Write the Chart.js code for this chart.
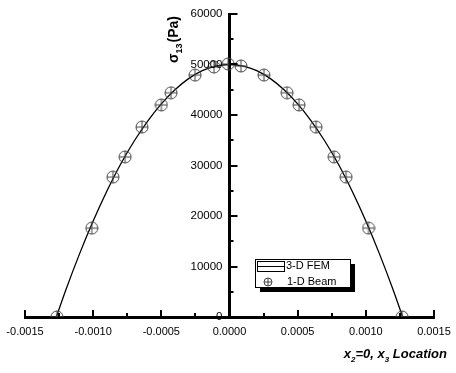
<!DOCTYPE html>
<html>
<head>
<meta charset="utf-8">
<script src="https://cdn.jsdelivr.net/npm/chart.js@4.4.0/dist/chart.umd.min.js"></script>
<style>
  html, body { margin: 0; padding: 0; background: #fff; }
  #wrap { width: 456px; height: 373px; }
</style>
</head>
<body>
<div id="wrap"><canvas id="graf"></canvas></div>
<script>
// dados
const femX = [-0.00127, -0.0012, -0.0011, -0.0010, -0.0009, -0.0008, -0.0007, -0.0006, -0.0005, -0.0004, -0.0003, -0.0002, -0.0001, 0.0,
              0.0001, 0.0002, 0.0003, 0.0004, 0.0005, 0.0006, 0.0007, 0.0008, 0.0009, 0.0010, 0.0011, 0.0012, 0.00127];
const femY = [0, 5400, 12500, 19000, 24900, 30200, 34800, 38800, 42200, 45000, 47200, 48800, 49700, 50000,
              49700, 48800, 47200, 45000, 42200, 38800, 34800, 30200, 24900, 19000, 12500, 5400, 0];

const beamX = [-0.001266, -0.00101, -0.000855, -0.000766, -0.000642, -0.0005, -0.000429, -0.000253, -0.000114, -0.00001,
               0.000084, 0.000253, 0.000422, 0.00051, 0.000635, 0.000767, 0.000855, 0.00102, 0.001266];
const beamY = [0, 17600, 27700, 31700, 37600, 42000, 44400, 47900, 49500, 50100,
               49700, 47900, 44400, 42000, 37600, 31700, 27700, 17600, 0];

const xTicks = [-0.0015, -0.0010, -0.0005, 0.0, 0.0005, 0.0010, 0.0015];
const yTicks = [0, 10000, 20000, 30000, 40000, 50000, 60000];
const legendLabels = ['3-D FEM', '1-D Beam'];

// marcador: circulo com cruz
function marcador(r) {
  const c = document.createElement('canvas');
  c.width = c.height = r * 2 + 2;
  const g = c.getContext('2d');
  g.strokeStyle = '#444';
  g.lineWidth = 1;
  g.beginPath(); g.arc(r + 1, r + 1, r, 0, Math.PI * 2); g.stroke();
  g.beginPath();
  g.moveTo(1, r + 1); g.lineTo(2 * r + 1, r + 1);
  g.moveTo(r + 1, 1); g.lineTo(r + 1, 2 * r + 1);
  g.stroke();
  return c;
}
const ponto = marcador(6);
const pontoLegenda = marcador(4);

const eixos = {
  id: 'eixos',
  afterDraw(chart) {
    const ctx = chart.ctx;
    const sx = chart.scales.x, sy = chart.scales.y;
    const x0 = sx.getPixelForValue(0), y0 = sy.getPixelForValue(0);
    ctx.save();
    ctx.strokeStyle = '#000';
    ctx.lineWidth = 2;
    // ticks do eixo x (para cima)
    for (let i = 0; i <= 12; i++) {
      const v = -0.0015 + i * 0.00025;
      const px = Math.round(sx.getPixelForValue(v));
      const len = (i % 2 === 0) ? 7 : 4;
      ctx.beginPath(); ctx.moveTo(px, y0); ctx.lineTo(px, y0 - len); ctx.stroke();
    }
    // ticks do eixo y (para direita)
    for (let i = 0; i <= 12; i++) {
      const v = i * 5000;
      const py = Math.round(sy.getPixelForValue(v));
      const len = (i % 2 === 0) ? 8 : 4;
      ctx.beginPath(); ctx.moveTo(x0, py); ctx.lineTo(x0 + len, py); ctx.stroke();
    }
    // rotulos do eixo y (a esquerda do eixo)
    ctx.fillStyle = '#000';
    ctx.font = '11.5px "Liberation Sans", Arial, sans-serif';
    ctx.textAlign = 'right';
    ctx.textBaseline = 'middle';
    yTicks.forEach(v => {
      ctx.fillText(String(v), x0 - 7, sy.getPixelForValue(v));
    });
    ctx.textAlign = 'left';

    // titulo eixo y
    ctx.translate(178, 63);
    ctx.rotate(-Math.PI / 2);
    ctx.textBaseline = 'alphabetic';
    ctx.font = 'bold 14px "Liberation Sans", Arial, sans-serif';
    let tx = 0;
    ctx.fillText('σ', tx, 0); tx += ctx.measureText('σ').width;
    ctx.font = 'bold 9px "Liberation Sans", Arial, sans-serif';
    ctx.fillText('13', tx, 4); tx += ctx.measureText('13').width + 1;
    ctx.font = 'bold 14px "Liberation Sans", Arial, sans-serif';
    ctx.fillText('(Pa)', tx, 0);
    ctx.restore();

    // titulo eixo x
    ctx.save();
    ctx.fillStyle = '#000';
    const partes = [['x', 0], ['2', 1], ['=0, x', 0], ['3', 1], [' Location', 0]];
    let total = 0;
    partes.forEach(p => {
      ctx.font = p[1] ? 'bold italic 8px "Liberation Sans", Arial' : 'bold italic 13px "Liberation Sans", Arial';
      total += ctx.measureText(p[0]).width;
    });
    let ax = 447 - total;
    partes.forEach(p => {
      ctx.font = p[1] ? 'bold italic 8px "Liberation Sans", Arial' : 'bold italic 13px "Liberation Sans", Arial';
      ctx.fillText(p[0], ax, p[1] ? 362 : 358);
      ax += ctx.measureText(p[0]).width;
    });

    // legenda
    const lx = 255, ly = 259, lw = 95, lh = 28;
    ctx.fillStyle = '#000';
    ctx.fillRect(lx + 5, ly + 5, lw, lh);
    ctx.fillStyle = '#fff';
    ctx.fillRect(lx, ly, lw, lh);
    ctx.strokeStyle = '#000';
    ctx.lineWidth = 1;
    ctx.strokeRect(lx + 0.5, ly + 0.5, lw, lh);
    ctx.strokeRect(257.5, 261.5, 27, 10);
    ctx.beginPath(); ctx.moveTo(257, 266.5); ctx.lineTo(285, 266.5); ctx.stroke();
    ctx.fillStyle = '#000';
    ctx.font = '11px "Liberation Sans", Arial, sans-serif';
    ctx.textBaseline = 'middle';
    ctx.fillText(legendLabels[0], 286, 266);
    ctx.drawImage(pontoLegenda, 268 - 5, 282 - 5);
    ctx.fillText(legendLabels[1], 287, 282);
    ctx.restore();
  }
};

const graf = new Chart(document.getElementById('graf'), {
  type: 'scatter',
  data: {
    datasets: [
      {
        label: legendLabels[0],
        data: femX.map((x, i) => ({ x: x, y: femY[i] })),
        showLine: true,
        borderColor: '#000',
        borderWidth: 1.3,
        pointRadius: 0,
        tension: 0.4,
        cubicInterpolationMode: 'monotone',
        order: 2
      },
      {
        label: legendLabels[1],
        data: beamX.map((x, i) => ({ x: x, y: beamY[i] })),
        showLine: false,
        pointStyle: ponto,
        order: 1
      }
    ]
  },
  options: {
    responsive: true,
    maintainAspectRatio: false,
    animation: false,
    layout: { padding: { left: 25, right: 22, top: 14, bottom: 56 } },
    plugins: { legend: { display: false }, tooltip: { enabled: false } },
    scales: {
      x: {
        type: 'linear',
        position: { y: 0 },
        min: -0.0015, max: 0.0015,
        afterBuildTicks: s => { s.ticks = xTicks.map(v => ({ value: v })); },
        ticks: {
          color: '#000',
          padding: 2,
          font: { family: '"Liberation Sans", Arial, sans-serif', size: 11 },
          maxRotation: 0,
          autoSkip: false,
          callback: v => (Math.abs(v) < 1e-9 ? 0 : v).toFixed(4)
        },
        grid: { display: true, drawOnChartArea: false, drawTicks: true, tickLength: 6, tickColor: 'rgba(0,0,0,0)' },
        border: { display: true, color: '#000', width: 3 }
      },
      y: {
        type: 'linear',
        position: { x: 0 },
        min: 0, max: 60000,
        afterBuildTicks: s => { s.ticks = yTicks.map(v => ({ value: v })); },
        ticks: { display: false },
        grid: { display: false, drawTicks: false },
        border: { display: true, color: '#000', width: 3 }
      }
    }
  },
  plugins: [eixos]
});
</script>
</body>
</html>
